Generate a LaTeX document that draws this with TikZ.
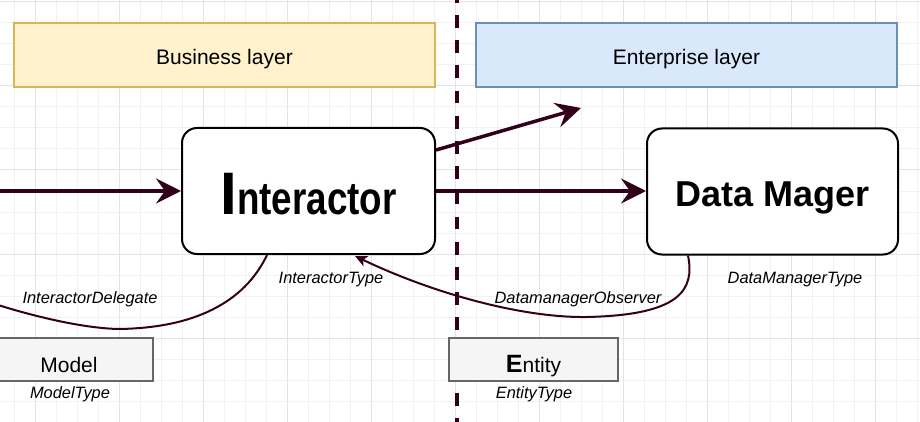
\documentclass[tikz,border=0pt]{standalone}
\usepackage{fontspec}
\usepackage{graphicx}
\setmainfont{Liberation Sans}
\usetikzlibrary{arrows.meta,calc}
\definecolor{conn}{HTML}{33001A}
\definecolor{bizfill}{HTML}{FFF2CC}
\definecolor{bizdraw}{HTML}{D6B656}
\definecolor{entfill}{HTML}{DAE8FC}
\definecolor{entdraw}{HTML}{6C8EBF}
\definecolor{boxfill}{HTML}{F5F5F5}
\definecolor{boxdraw}{HTML}{666666}
\definecolor{gridminor}{HTML}{F2F2F2}
\definecolor{gridmajor}{HTML}{E4E4E4}
\begin{document}
\begin{tikzpicture}[x=1pt,y=-1pt,
  gridline/.style={draw=gridminor,line width=1pt},
  gridmajorline/.style={draw=gridmajor,line width=1pt},
  divider/.style={draw=conn,line width=4pt,dash pattern=on 12.8pt off 12.4pt},
  layer/.style={draw,line width=1.5pt,minimum width=421pt,minimum height=64pt,inner sep=0pt,
    font=\fontsize{21}{25}\selectfont,text height=20pt,text depth=0pt},
  bizlayer/.style={layer,fill=bizfill,draw=bizdraw},
  entlayer/.style={layer,fill=entfill,draw=entdraw},
  mainbox/.style={draw=black,fill=white,line width=2pt,rounded corners=15pt,
    minimum height=126pt,inner sep=0pt,font=\bfseries},
  plainbox/.style={draw=boxdraw,fill=boxfill,line width=2pt,minimum height=43pt,inner sep=0pt,
    font=\fontsize{21}{25}\selectfont,text height=25pt,text depth=0pt},
  typelabel/.style={font=\fontsize{16.4}{19}\selectfont\itshape,anchor=base,inner sep=0pt},
  flow/.style={draw=conn,line width=3.5pt,-{Stealth[length=25pt,width=25pt,inset=9pt]}},
  link/.style={draw=conn,line width=2pt},
  linkarrow/.style={link,-{Stealth[length=12pt,width=11pt,inset=3pt]}}
]
\useasboundingbox (0,0) rectangle (920,422);
\fill[white] (0,0) rectangle (920,422);
\foreach \i in {0,...,44} \draw[gridline] ({-7+21*\i},0) -- ++(0,422);
\foreach \j in {0,...,20} \draw[gridline] (0,{2+21*\j}) -- ++(920,0);
\foreach \i in {2,6,...,42} \draw[gridmajorline] ({-7+21*\i},0) -- ++(0,422);
\foreach \j in {0,4,...,20} \draw[gridmajorline] (0,{2+21*\j}) -- ++(920,0);

% divider
\coordinate (divtop) at (457,-10.2);
\coordinate (divbot) at (457,440);
\draw[divider] (divtop) -- (divbot);

% layers
\node[bizlayer] (biz) at (224.5,55) {Business layer};
\node[entlayer] (ent) at (686.5,55) {Enterprise layer};

% main boxes
\node[mainbox,minimum width=253pt,text height=46pt,text depth=0pt] (inter) at (308.5,191)
  {{\fontsize{60}{60}\selectfont I}\scalebox{0.8}[1]{\fontsize{46}{50}\selectfont nteractor}};
\node[mainbox,minimum width=251pt,text height=29pt,text depth=0pt] (dm) at (772.5,191.5)
  {\fontsize{36}{40}\selectfont Data Mager};

% bottom boxes
\node[plainbox,minimum width=168pt] (model) at (69,359.5) {Model};
\node[plainbox,minimum width=169pt] (entity) at (533.5,359.5)
  {{\bfseries\fontsize{25}{25}\selectfont E}ntity};

% labels
\node[typelabel] (itype) at (331,283) {InteractorType};
\node[typelabel] (ideleg) at (90,303) {InteractorDelegate};
\node[typelabel] (dobs) at (578,303) {DatamanagerObserver};
\node[typelabel] (dtype) at (795,283) {DataManagerType};
\node[typelabel] (mtype) at (70,398) {ModelType};
\node[typelabel] (etype) at (534,398) {EntityType};

% connectors
\coordinate (leftin) at (0,191);
\coordinate (up) at (581,108);
\coordinate (delend) at (-2,305);
\draw[flow] (leftin) -- (inter.west);
\draw[flow] ($(inter.east)+(0,-41)$) -- (up);
\draw[flow] (inter.east) -- (dm.west |- inter.east);
\draw[link] ($(inter.south)+(-41.5,0)$) .. controls (248,295) and (205,328) .. (118,329)
  .. controls (80,328) and (30,315) .. (delend);
\draw[linkarrow] ($(dm.south)+(-84.5,0)$) .. controls (695,290) and (680,315) .. (587,317)
  .. controls (520,318) and (430,292) .. ($(inter.south)+(46.5,1)$);
\end{tikzpicture}
\end{document}
